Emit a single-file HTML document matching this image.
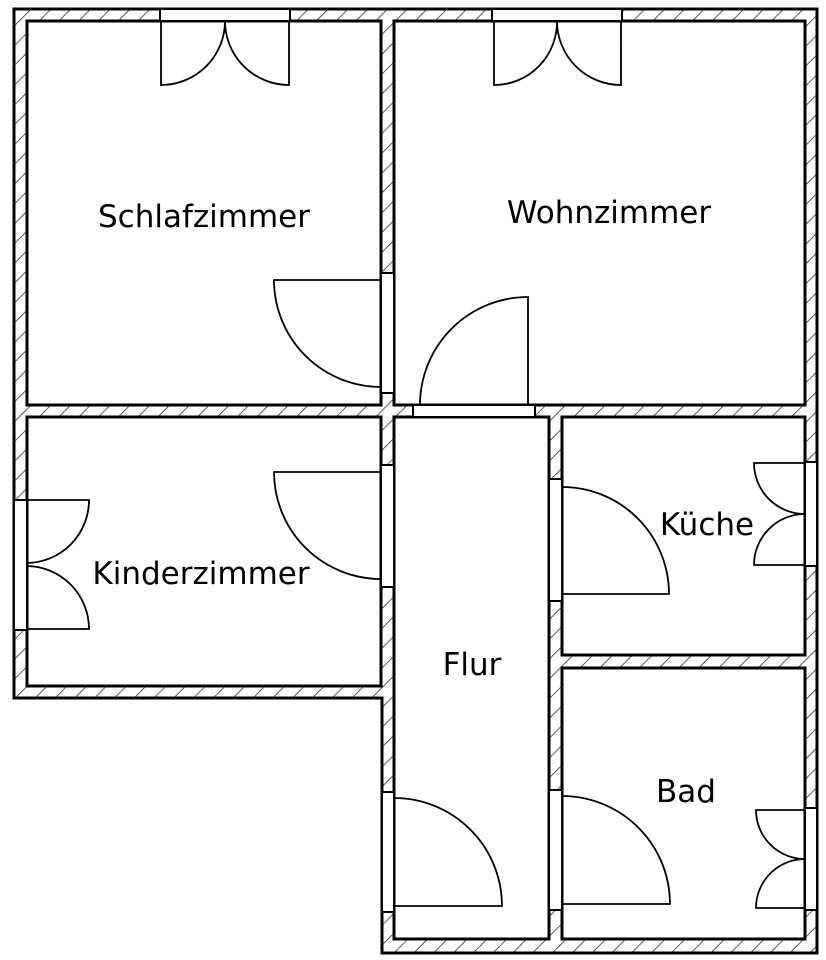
<!DOCTYPE html>
<html><head><meta charset="utf-8"><style>
html,body{margin:0;padding:0;background:#fff;}
svg{display:block;}
text{font-family:"DejaVu Sans","Liberation Sans",sans-serif;font-size:31px;fill:#000;}
</style></head><body>
<svg width="826" height="960" viewBox="0 0 826 960" xmlns="http://www.w3.org/2000/svg">
<defs>
<pattern id="h" patternUnits="userSpaceOnUse" width="14" height="14" patternTransform="rotate(45)">
<rect width="14" height="14" fill="#fff"/>
<line x1="0" y1="0" x2="0" y2="14" stroke="#333" stroke-width="1.6"/>
</pattern>
</defs>
<polygon points="14,9 817,9 817,953 382,953 382,698 14,698" fill="url(#h)" stroke="#000" stroke-width="3"/>
<g fill="#fff" stroke="#000" stroke-width="3">
<rect x="27" y="21" width="354" height="384"/>
<rect x="394" y="21" width="411" height="384"/>
<rect x="27" y="417" width="354" height="269"/>
<rect x="394" y="417" width="155" height="522"/>
<rect x="562" y="417" width="243" height="238"/>
<rect x="562" y="668" width="243" height="271"/>
</g>
<g fill="#fff" stroke="#000" stroke-width="2">
<rect x="160" y="9" width="130" height="12"/>
<rect x="492" y="9" width="130" height="12"/>
<rect x="381" y="273" width="13" height="120"/>
<rect x="413" y="405" width="122" height="12"/>
<rect x="381" y="465" width="13" height="122"/>
<rect x="14" y="500" width="13" height="130"/>
<rect x="549" y="479" width="13" height="122"/>
<rect x="805" y="462" width="12" height="104"/>
<rect x="382" y="792" width="12" height="120"/>
<rect x="549" y="790" width="13" height="120"/>
<rect x="805" y="808" width="12" height="102"/>
</g>
<g fill="none" stroke="#000" stroke-width="1.8">
<path d="M161,21 V85 A64,64 0 0 0 225,21"/>
<path d="M289,21 V85 A64,64 0 0 1 225,21"/>
<path d="M494,21 V85 A63,63 0 0 0 557,21"/>
<path d="M621,21 V85 A64,64 0 0 1 557,21"/>
<path d="M381,280 H274 A107,107 0 0 0 381,387"/>
<path d="M528,405 V297 A108,108 0 0 0 420,405"/>
<path d="M381,472 H274 A107,107 0 0 0 381,579"/>
<path d="M27,500 H89 A63,63 0 0 1 27,563"/>
<path d="M27,629 H89 A63,63 0 0 0 27,566"/>
<path d="M562,594 H669 A107,107 0 0 0 562,487"/>
<path d="M805,463 H754 A51,51 0 0 0 805,514"/>
<path d="M805,565 H754 A51,51 0 0 1 805,514"/>
<path d="M394,906 H502 A108,108 0 0 0 394,798"/>
<path d="M562,904 H670 A108,108 0 0 0 562,796"/>
<path d="M805,810 H756 A49,49 0 0 0 805,859"/>
<path d="M805,908 H756 A49,49 0 0 1 805,859"/>
</g>
<g text-anchor="middle">
<text x="204" y="227">Schlafzimmer</text>
<text x="609" y="223">Wohnzimmer</text>
<text x="201" y="584">Kinderzimmer</text>
<text x="707" y="535">Küche</text>
<text x="472" y="675">Flur</text>
<text x="686" y="802">Bad</text>
</g>
</svg>
</body></html>
